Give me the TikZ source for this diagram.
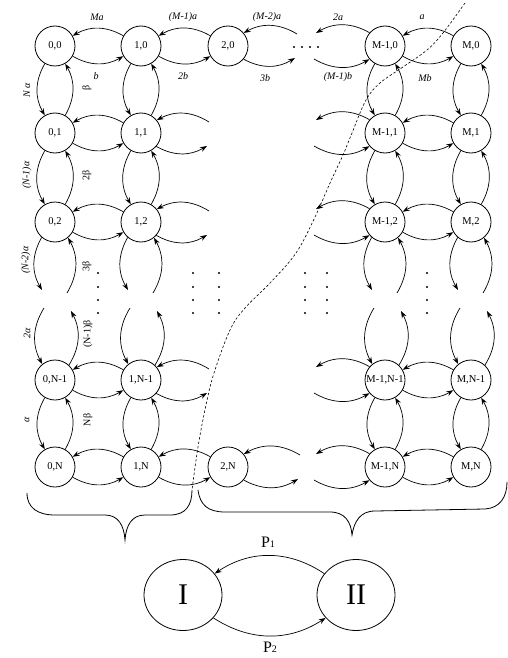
\documentclass[tikz,border=0pt]{standalone}
\usepackage{fontspec}
\setmainfont{Liberation Serif}
\usetikzlibrary{arrows.meta,shapes.geometric}
\begin{document}
\begin{tikzpicture}[x=1pt,y=1pt,
  st/.style={circle,draw,line width=0.8pt,minimum size=40pt,inner sep=0pt,font=\fontsize{10.5}{10.5}\selectfont},
  big/.style={ellipse,draw,line width=0.8pt,minimum width=78pt,minimum height=71pt,inner sep=0pt,font=\fontsize{30}{30}\selectfont},
  arr/.style={-{Stealth[length=7pt,width=5pt]},line width=0.7pt},
  fl/.style={arr,bend right=30},
  lb/.style={font=\fontsize{10}{10}\selectfont\itshape,inner sep=0pt},
  ub/.style={font=\fontsize{10}{10}\selectfont,inner sep=0pt,rotate=90},
  vl/.style={lb,rotate=90},
  dt/.style={circle,fill,inner sep=0pt,minimum size=2.4pt},
  brc/.style={line width=0.8pt},
  pl/.style={font=\fontsize{16}{16}\selectfont,inner sep=0pt},
]
\useasboundingbox (0,0) rectangle (508,-658);
% states
\node[st] (n00) at (55,-46) {0,0};
\node[st] (n10) at (141,-46) {1,0};
\node[st] (n20) at (228,-46) {2,0};
\node[st] (nM10) at (385,-46) {M-1,0};
\node[st] (nM0) at (471,-46) {M,0};
\node[st] (n01) at (55,-133) {0,1};
\node[st] (n11) at (141,-133) {1,1};
\node[st] (nM11) at (385,-133) {M-1,1};
\node[st] (nM1) at (471,-133) {M,1};
\node[st] (n02) at (55,-222) {0,2};
\node[st] (n12) at (141,-222) {1,2};
\node[st] (nM12) at (385,-222) {M-1,2};
\node[st] (nM2) at (471,-222) {M,2};
\node[st] (n0p) at (55,-380) {0,N-1};
\node[st] (n1p) at (141,-380) {1,N-1};
\node[st] (nM1p) at (385,-380) {M-1,N-1};
\node[st] (nMp) at (471,-380) {M,N-1};
\node[st] (n0q) at (55,-467) {0,N};
\node[st] (n1q) at (141,-467) {1,N};
\node[st] (n2q) at (228,-467) {2,N};
\node[st] (nM1q) at (385,-467) {M-1,N};
\node[st] (nMq) at (471,-467) {M,N};
% horizontal full pairs
\foreach \a/\b in {n00/n10,n10/n20,nM10/nM0,n01/n11,nM11/nM1,n02/n12,nM12/nM2,n0p/n1p,nM1p/nMp,n0q/n1q,n1q/n2q,nM1q/nMq}{
  \draw[fl] (\b) to (\a);
  \draw[fl] (\a) to (\b);
}
% vertical full pairs
\foreach \c in {0,1,M1,M}{
  \draw[fl] (n\c0) to (n\c1); \draw[fl] (n\c1) to (n\c0);
  \draw[fl] (n\c1) to (n\c2); \draw[fl] (n\c2) to (n\c1);
  \draw[fl] (n\c p) to (n\c q); \draw[fl] (n\c q) to (n\c p);
}
% vertical partials
\foreach \c/\x in {0/55,1/141,M1/385,M/471}{
  \coordinate (ta\c) at (\x-13,-290);
  \coordinate (tb\c) at (\x+12,-293);
  \coordinate (ba\c) at (\x-11,-308);
  \coordinate (bb\c) at (\x+16,-311);
  \draw[fl] (n\c2) to (ta\c);
  \draw[fl] (tb\c) to (n\c2);
  \draw[fl] (ba\c) to (n\c p);
  \draw[fl] (n\c p) to (bb\c);
}
% right partials of column 1
\foreach \r/\y in {1/133,2/222,p/380}{
  \coordinate (ri\r) at (209,-\y+11);
  \coordinate (ro\r) at (207,-\y-13);
  \draw[fl] (ri\r) to (n1\r);
  \draw[fl] (n1\r) to (ro\r);
}
% right partials of column 2
\foreach \r/\y/\x in {0/46/297,q/467/300}{
  \coordinate (si\r) at (\x,-\y+12);
  \coordinate (so\r) at (\x-2,-\y-12);
  \draw[fl] (si\r) to (n2\r);
  \draw[fl] (n2\r) to (so\r);
}
% left partials of column M-1
\foreach \r/\y in {0/46,1/133,2/222,p/380,q/467}{
  \coordinate (lo\r) at (316,-\y+13);
  \coordinate (li\r) at (314,-\y-13);
  \draw[fl] (nM1\r) to (lo\r);
  \draw[fl] (li\r) to (nM1\r);
}
% rate labels, top row
\node[lb] (la1) at (97,-17) {Ma};
\node[lb] (la2) at (183,-17) {(M-1)a};
\node[lb] (la3) at (267,-17) {(M-2)a};
\node[lb] (la4) at (338,-17) {2a};
\node[lb] (la5) at (422,-17) {a};
\node[lb] (lb1) at (96,-76) {b};
\node[lb] (lb2) at (183,-76) {2b};
\node[lb] (lb3) at (265,-78) {3b};
\node[lb] (lb4) at (338,-77) {(M-1)b};
\node[lb] (lb5) at (425,-78) {Mb};
% rate labels, first column
\node[vl] (lc1) at (27,-90) {N α};
\node[vl] (lc2) at (27,-175) {(N-1)α};
\node[vl] (lc3) at (26,-260) {(N-2)α};
\node[vl] (lc4) at (27,-333) {2α};
\node[vl] (lc5) at (27,-420) {α};
\node[ub] (ld1) at (87,-88) {β};
\node[ub] (ld2) at (87,-175) {2β};
\node[ub] (ld3) at (87,-266) {3β};
\node[ub] (ld4) at (88,-334) {(N-1)β};
\node[ub] (ld5) at (88,-420) {Nβ};
% dots
\foreach \x [count=\i] in {294,302,310,318}{\node[dt] (td\i) at (\x,-47) {};}
\foreach \x [count=\i] in {98,193,219,305,327,427}{
  \foreach \y [count=\j] in {273,287,300,313}{\node[dt] (md\i\j) at (\x,-\y) {};}
}
% dashed cut
\draw[line width=0.6pt,dash pattern=on 2.5pt off 2pt] plot[smooth,tension=0.6] coordinates {
 (465,-3) (443,-33) (427,-50) (403,-67) (380,-83) (366,-100) (352,-133) (343,-155) (330,-183) (315,-217) (296,-253) (270,-283) (245,-308) (230,-330) (214,-373) (206,-405) (198,-447) (192,-490)};
% braces
\draw[brc] (27,-493) .. controls (27,-508) and (38,-515) .. (55,-515) -- (105,-515)
  .. controls (118,-515) and (124,-525) .. (125,-540)
  .. controls (126,-525) and (132,-515) .. (145,-515) -- (170,-515)
  .. controls (186,-515) and (192,-505) .. (192,-490);
\draw[brc] (198,-490) .. controls (200,-505) and (208,-512) .. (225,-512) -- (330,-512)
  .. controls (345,-512) and (351,-522) .. (352,-535)
  .. controls (354,-522) and (360,-511) .. (375,-511) -- (485,-509)
  .. controls (500,-508) and (507,-497) .. (507,-482);
% aggregated chain
\node[big] (I) at (183,-595) {I};
\node[big] (II) at (356,-595) {II};
\draw[arr] (II.146) to[out=146,in=34] (I.34);
\draw[arr] (I.-37) to[out=-33,in=-147] (II.-143);
\node[pl] (p1) at (268,-542) {P{\fontsize{10}{10}\selectfont 1}};
\node[pl] (p2) at (270,-647) {P{\fontsize{10}{10}\selectfont 2}};
\end{tikzpicture}
\end{document}
